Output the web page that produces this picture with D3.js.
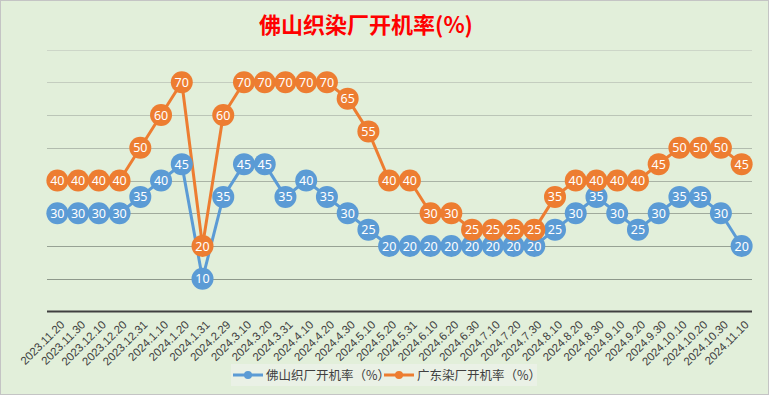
<!DOCTYPE html>
<html><head><meta charset="utf-8">
<script src="https://cdn.jsdelivr.net/npm/d3@7"></script>
<style>
html,body{margin:0;padding:0;background:#fff;}
svg{display:block;}
</style></head>
<body>
<svg id="chart" width="769" height="395"></svg>
<script>
const categories = ["2023.11.20","2023.11.30","2023.12.10","2023.12.20","2023.12.31","2024.1.10","2024.1.20","2024.1.31","2024.2.29","2024.3.10","2024.3.20","2024.3.31","2024.4.10","2024.4.20","2024.4.30","2024.5.10","2024.5.20","2024.5.31","2024.6.10","2024.6.20","2024.6.30","2024.7.10","2024.7.20","2024.7.30","2024.8.10","2024.8.20","2024.8.30","2024.9.10","2024.9.20","2024.9.30","2024.10.10","2024.10.20","2024.10.30","2024.11.10"];
const foshanWeaving = [30,30,30,30,35,40,45,10,35,45,45,35,40,35,30,25,20,20,20,20,20,20,20,20,25,30,35,30,25,30,35,35,30,20];
const guangdongDyeing = [40,40,40,40,50,60,70,20,60,70,70,70,70,70,65,55,40,40,30,30,25,25,25,25,35,40,40,40,40,45,50,50,50,45];
const seriesNames = ["佛山织厂开机率（%）","广东染厂开机率（%）"];
const yTicks = [10,20,30,40,50,60,70,80];
const title = "佛山织染厂开机率(%)";

const W = 769, H = 395;
const svg = d3.select("#chart");
svg.append("rect").attr("x",0.5).attr("y",0.5).attr("width",W-1).attr("height",H-1)
  .attr("fill","#E2EFDA").attr("stroke","#c4c4c4");

const x = d3.scaleBand().domain(categories).range([47,752]);
const y = d3.scaleLinear().domain([0,80]).range([311.5,49.5]);
const gridColor = d3.scaleLinear().domain([10,80]).range(["#8e998b","#cdd6c8"]);

// gridlines
svg.append("g").selectAll("line").data(yTicks).join("line")
  .attr("x1",47).attr("x2",752)
  .attr("y1",d=>Math.round(y(d))+0.5).attr("y2",d=>Math.round(y(d))+0.5)
  .attr("stroke",d=>gridColor(d)).attr("stroke-width",1);

// x axis
const xAxis = svg.append("g").attr("transform",`translate(0,${y(0)})`)
  .call(d3.axisBottom(x).tickSize(0).tickPadding(0));
xAxis.select(".domain").attr("stroke","#404040").attr("stroke-width",2.2).attr("d","M47,0H752");
xAxis.selectAll("text")
  .attr("font-family","'Liberation Sans', Arial, sans-serif")
  .attr("font-size","11.5px")
  .attr("fill","#404040")
  .attr("text-anchor","end")
  .attr("dy","0")
  .attr("transform","translate(8,14) rotate(-45)");

const colors = ["#5B9BD5","#ED7D31"];
const data = [foshanWeaving, guangdongDyeing];
const line = d3.line().x((d,i)=>x(categories[i])+x.bandwidth()/2).y(d=>y(d));

data.forEach((vals,si)=>{
  const g = svg.append("g");
  g.append("path").datum(vals).attr("d",line).attr("fill","none")
    .attr("stroke",colors[si]).attr("stroke-width",3).attr("stroke-linejoin","round");
});
data.forEach((vals,si)=>{
  const g = svg.append("g");
  const pts = g.selectAll("g").data(vals).join("g")
    .attr("transform",(d,i)=>`translate(${x(categories[i])+x.bandwidth()/2},${y(d)})`);
  pts.append("circle").attr("r",11).attr("fill",colors[si]);
  pts.append("text").text(d=>d).attr("text-anchor","middle").attr("dy","0.36em")
    .attr("font-family","'Noto Sans', sans-serif").attr("font-size","12.5px").attr("fill","#fff");
});

// title
svg.append("text").attr("x",366).attr("y",33).attr("text-anchor","middle")
  .attr("font-family","'Noto Sans CJK SC', sans-serif").attr("font-weight","bold")
  .attr("font-size","22px").attr("fill","#FF0000").text(title);

// legend
const lg = svg.append("g");
lg.append("rect").attr("x",231).attr("y",364).attr("width",306).attr("height",22).attr("fill","#eaf1e6");
const legX = [233,384];
seriesNames.forEach((n,i)=>{
  const gx = legX[i];
  lg.append("line").attr("x1",gx).attr("x2",gx+30).attr("y1",375).attr("y2",375)
    .attr("stroke",colors[i]).attr("stroke-width",3);
  lg.append("circle").attr("cx",gx+15).attr("cy",375).attr("r",4).attr("fill",colors[i]);
  lg.append("text").attr("x",gx+33).attr("y",375).attr("dy","0.36em")
    .attr("font-family","'Noto Sans CJK SC', sans-serif").attr("font-size","12.5px")
    .attr("fill","#404040").text(n);
});
</script>
</body></html>
